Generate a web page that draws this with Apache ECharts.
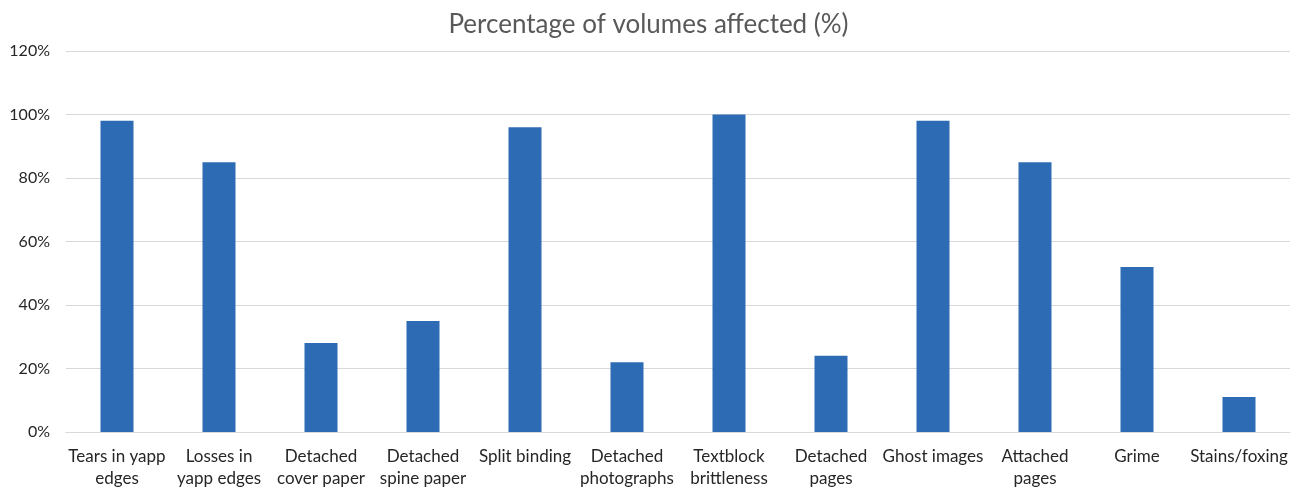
<!DOCTYPE html>
<html>
<head>
<meta charset="utf-8">
<script src="https://cdn.jsdelivr.net/npm/echarts@6/dist/echarts.min.js"></script>
<style>
  html, body { margin: 0; padding: 0; background: #ffffff; }
  #chart { width: 1297px; height: 487px; }
</style>
</head>
<body>
<div id="chart"></div>
<script>
// Condition categories (two-line labels) and share of volumes affected, in percent
const categories = [
  'Tears in yapp\nedges',
  'Losses in\nyapp edges',
  'Detached\ncover paper',
  'Detached\nspine paper',
  'Split binding',
  'Detached\nphotographs',
  'Textblock\nbrittleness',
  'Detached\npages',
  'Ghost images',
  'Attached\npages',
  'Grime',
  'Stains/foxing'
];
const percentAffected = [98, 85, 28, 35, 96, 22, 100, 24, 98, 85, 52, 11];
const titleText = 'Percentage of volumes affected (%)';

const font = 'Lato, "Open Sans", sans-serif';
const chart = echarts.init(document.getElementById('chart'));
chart.setOption({
  animation: false,
  backgroundColor: '#ffffff',
  title: {
    text: titleText,
    left: 'center',
    top: 7,
    textStyle: { fontFamily: font, fontSize: 26, fontWeight: 'normal', color: '#595959' }
  },
  // the second line of the category labels runs to the bottom edge
  grid: { left: 66, right: 7, top: 51, bottom: 55, outerBoundsMode: 'none', containLabel: false },
  xAxis: {
    type: 'category',
    data: categories,
    axisLine: { lineStyle: { color: '#d9d9d9', width: 1 } },
    axisTick: { show: false },
    axisLabel: {
      interval: 0,
      margin: 14,
      fontFamily: font,
      fontSize: 17,
      lineHeight: 22,
      color: '#262626'
    }
  },
  yAxis: {
    type: 'value',
    min: 0,
    max: 120,
    interval: 20,
    axisLine: { show: false },
    axisTick: { show: false },
    splitLine: { lineStyle: { color: '#d9d9d9', width: 1 } },
    axisLabel: {
      formatter: '{value}%',
      margin: 16,
      fontFamily: font,
      fontSize: 16,
      color: '#262626'
    }
  },
  series: [{
    type: 'bar',
    data: percentAffected,
    barWidth: 33,
    itemStyle: { color: '#2e6bb5' }
  }]
});
</script>
</body>
</html>
